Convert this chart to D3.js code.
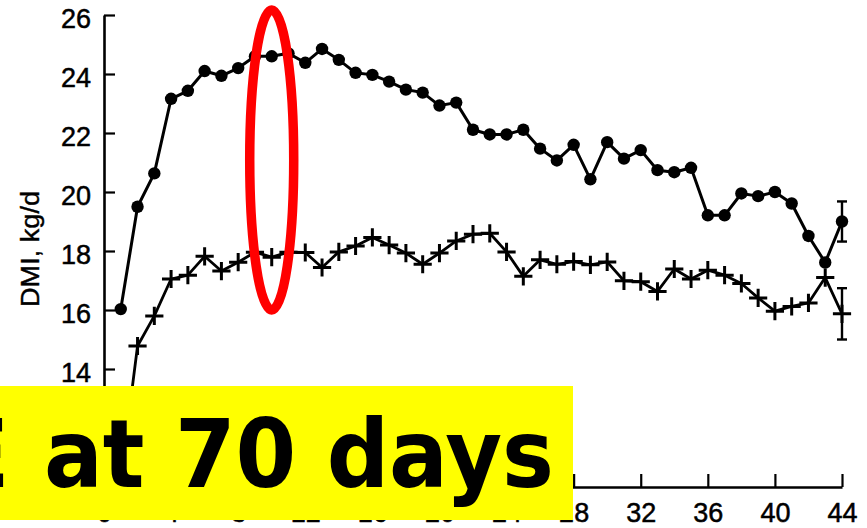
<!DOCTYPE html>
<html>
<head>
<meta charset="utf-8">
<script src="https://cdn.jsdelivr.net/npm/d3@7"></script>
<style>
  body { margin: 0; background: #fff; }
  svg { display: block; }
  .tick text { font-family: "Liberation Sans", Arial, sans-serif; font-size: 27px; fill: #000; stroke: #000; stroke-width: 0.5px; }
</style>
</head>
<body>
<svg id="chart" width="867" height="528"></svg>
<script>
// weeks postpartum
const weeks = d3.range(1, 45)

// DMI, kg/d - filled circles
const dmiHigh = [16.03, 19.5, 20.63, 23.16, 23.43, 24.1, 23.94, 24.2, 24.6, 24.6,
  24.7, 24.38, 24.85, 24.48, 24.04, 23.97, 23.74, 23.47, 23.37, 22.93,
  23.03, 22.11, 21.95, 21.95, 22.11, 21.47, 21.07, 21.6, 20.43, 21.69,
  21.13, 21.42, 20.74, 20.67, 20.82, 19.21, 19.21, 19.95, 19.86, 20.0,
  19.61, 18.51, 17.61, 19.0]

// DMI, kg/d - crosses
const dmiLow = [10.3, 14.78, 15.8, 17.05, 17.18, 17.82, 17.32, 17.62, 17.96, 17.79,
  17.96, 17.95, 17.44, 17.97, 18.17, 18.46, 18.2, 17.93, 17.55, 17.93,
  18.34, 18.57, 18.6, 17.97, 17.14, 17.7, 17.55, 17.64, 17.53, 17.63,
  16.99, 16.96, 16.63, 17.39, 17.05, 17.35, 17.18, 16.9, 16.41, 15.96,
  16.12, 16.24, 17.1, 15.87]

// error bars on the last week only
const errWeek = [44, 44]
const errMean = [19.0, 15.87]
const errSd = [0.68, 0.87]

const xTicks = [0, 4, 8, 12, 16, 20, 24, 28, 32, 36, 40, 44]
const yTicks = [10, 12, 14, 16, 18, 20, 22, 24, 26]

const yLabel = "DMI, kg/d"
const noteText = "PEAK INTAKE"
const noteTail = "at 70 days"
const peakWeek = 10

const svg = d3.select("#chart")

const x = d3.scaleLinear().domain([0, 44]).range([104, 842])
const y = d3.scaleLinear().domain([10, 26]).range([487, 15])

// axes, ticks pointing inward
const gx = svg.append("g")
  .attr("transform", `translate(0,${y(10)})`)
  .call(d3.axisBottom(x).tickValues(xTicks).tickSizeInner(-13).tickSizeOuter(0).tickPadding(16))
const gy = svg.append("g")
  .attr("transform", `translate(${x(0)},0)`)
  .call(d3.axisLeft(y).tickValues(yTicks).tickSizeInner(-11).tickSizeOuter(0).tickPadding(13))

for (const g of [gx, gy]) {
  g.select(".domain").attr("stroke", "#000").attr("stroke-width", 2.6)
  g.selectAll(".tick line").attr("stroke", "#000").attr("stroke-width", 2.2)
}
gy.selectAll(".tick text").attr("dy", "0.45em")

svg.append("text")
  .attr("transform", `translate(39,249) rotate(-90)`)
  .attr("text-anchor", "middle")
  .attr("textLength", 116)
  .attr("lengthAdjust", "spacingAndGlyphs")
  .style("font-family", "Liberation Sans, Arial, sans-serif")
  .style("font-size", "25px")
  .style("stroke", "#000").style("stroke-width", "0.4px")
  .text(yLabel)

const line = d3.line()
  .x((d, i) => x(weeks[i]))
  .y(d => y(d))

const plot = svg.append("g")

plot.append("path")
  .datum(dmiHigh)
  .attr("d", line)
  .attr("fill", "none")
  .attr("stroke", "#000")
  .attr("stroke-width", 3)
  .attr("stroke-linejoin", "round")

plot.append("path")
  .datum(dmiLow)
  .attr("d", line)
  .attr("fill", "none")
  .attr("stroke", "#000")
  .attr("stroke-width", 2.8)
  .attr("stroke-linejoin", "round")

plot.selectAll(".dot")
  .data(dmiHigh)
  .enter()
  .append("circle")
    .attr("cx", (d, i) => x(weeks[i]))
    .attr("cy", d => y(d))
    .attr("r", 6.2)
    .attr("fill", "#000")

const plus = d3.symbol(d3.symbolPlus, 110)
plot.selectAll(".cross")
  .data(dmiLow)
  .enter()
  .append("path")
    .attr("d", plus)
    .attr("transform", (d, i) => `translate(${x(weeks[i])},${y(d)})`)
    .attr("fill", "none")
    .attr("stroke", "#000")
    .attr("stroke-width", 3)

// error bars
const err = plot.selectAll(".err")
  .data(errMean)
  .enter()
  .append("g")
    .attr("stroke", "#000")
    .attr("stroke-width", 2.4)
err.append("line")
  .attr("x1", (d, i) => x(errWeek[i])).attr("x2", (d, i) => x(errWeek[i]))
  .attr("y1", (d, i) => y(d + errSd[i])).attr("y2", (d, i) => y(d - errSd[i]))
err.append("line")
  .attr("x1", (d, i) => x(errWeek[i]) - 5).attr("x2", (d, i) => x(errWeek[i]) + 5)
  .attr("y1", (d, i) => y(d + errSd[i])).attr("y2", (d, i) => y(d + errSd[i]))
err.append("line")
  .attr("x1", (d, i) => x(errWeek[i]) - 5).attr("x2", (d, i) => x(errWeek[i]) + 5)
  .attr("y1", (d, i) => y(d - errSd[i])).attr("y2", (d, i) => y(d - errSd[i]))

// red ring round the peak week
svg.append("ellipse")
  .attr("cx", x(peakWeek))
  .attr("cy", 160)
  .attr("rx", 22)
  .attr("ry", 150)
  .attr("fill", "none")
  .attr("stroke", "#ff0000")
  .attr("stroke-width", 9.5)

// yellow note box
svg.append("rect")
  .attr("x", 0).attr("y", 386)
  .attr("width", 573).attr("height", 134)
  .attr("fill", "#ffff00")

const noteFont = "'Comic Sans MS', 'DejaVu Sans', sans-serif"
svg.append("text")
  .attr("x", 10).attr("y", 487)
  .attr("text-anchor", "end")
  .style("font-family", noteFont).style("font-weight", "bold").style("font-size", "94px")
  .text(noteText)
svg.append("text")
  .attr("x", 44).attr("y", 487)
  .attr("textLength", 510)
  .attr("lengthAdjust", "spacingAndGlyphs")
  .style("font-family", noteFont).style("font-weight", "bold").style("font-size", "94px")
  .text(noteTail)
</script>
</body>
</html>
